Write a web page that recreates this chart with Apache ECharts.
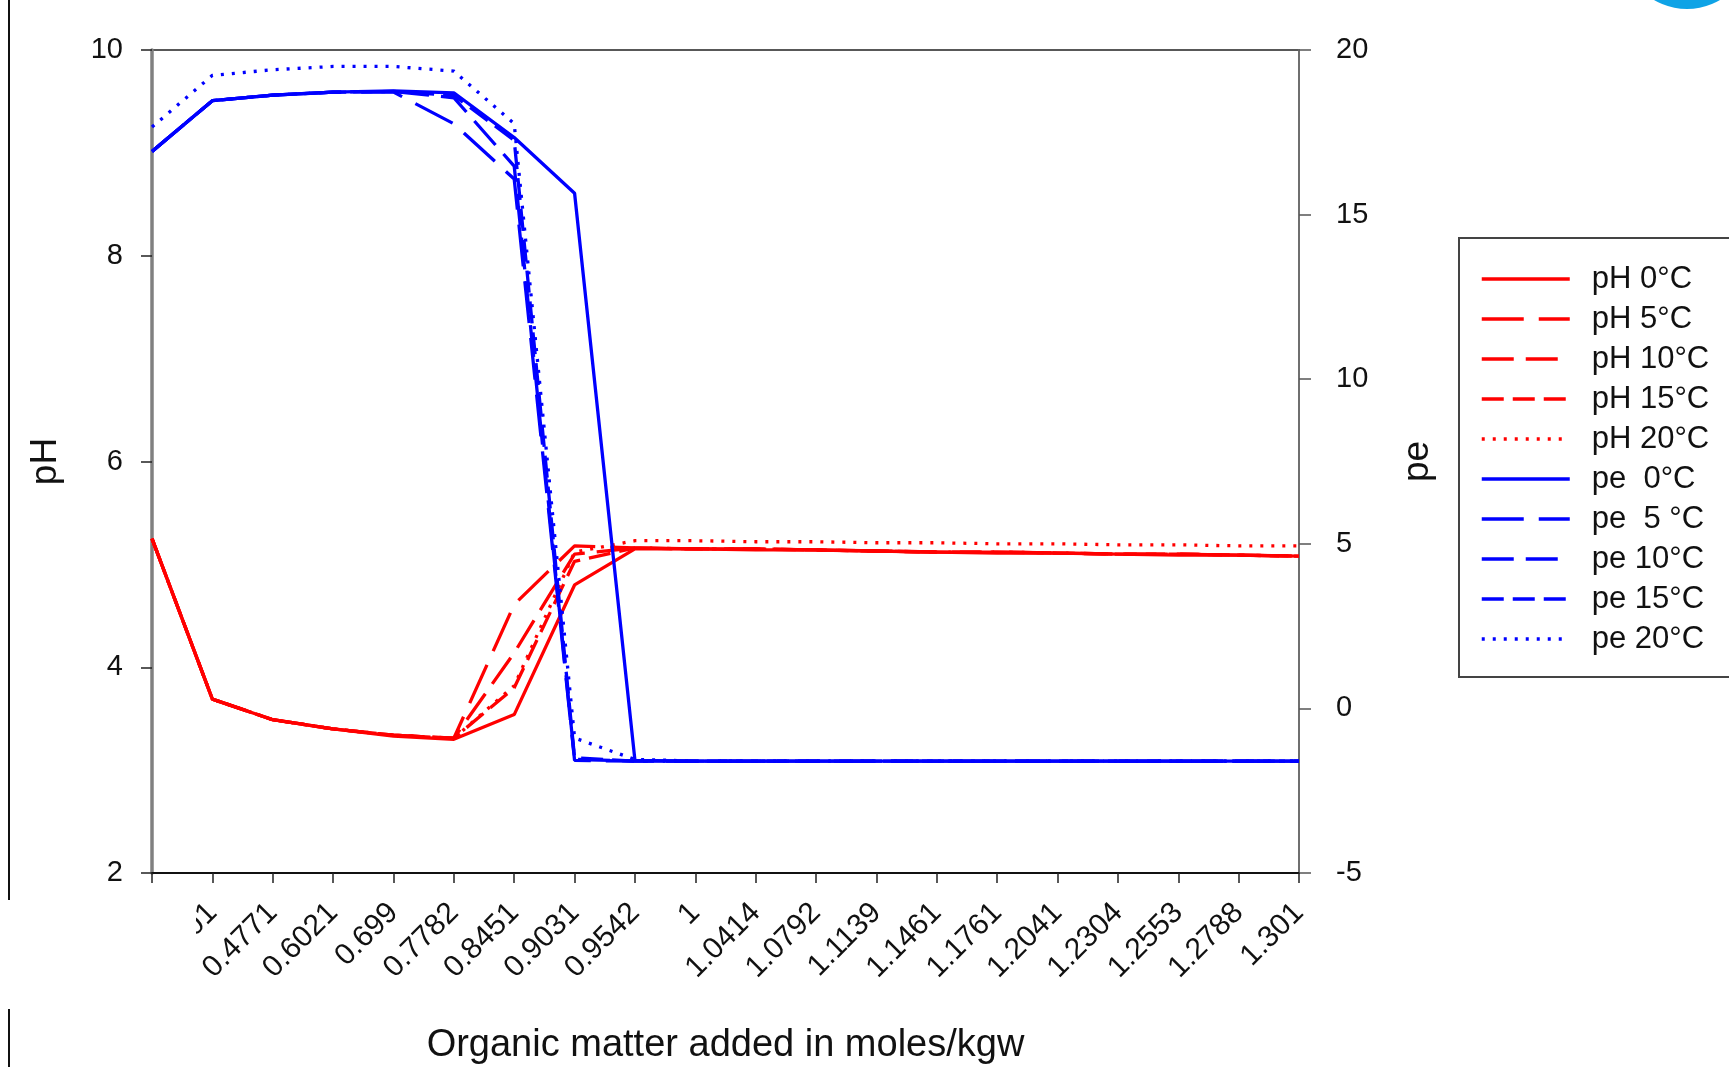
<!DOCTYPE html>
<html>
<head>
<meta charset="utf-8">
<script src="https://cdn.jsdelivr.net/npm/echarts@6/dist/echarts.min.js"></script>
<style>
  html, body { margin: 0; padding: 0; background: #fff; }
  #chart { width: 1729px; height: 1067px; }
</style>
</head>
<body>
<div id="chart"></div>
<script>
// organic matter added (log10 of moles/kgw)
const categories = ['0', '0.301', '0.4771', '0.6021', '0.699', '0.7782', '0.8451', '0.9031', '0.9542', '1',
  '1.0414', '1.0792', '1.1139', '1.1461', '1.1761', '1.2041', '1.2304', '1.2553', '1.2788', '1.301'];

// pH, left axis
const ph0 = [5.25, 3.69, 3.49, 3.40, 3.33, 3.30, 3.54, 4.80, 5.15, 5.15, 5.14, 5.14, 5.13, 5.12, 5.11, 5.11, 5.10, 5.09, 5.09, 5.08];
const ph5 = [5.25, 3.69, 3.49, 3.40, 3.34, 3.31, 4.61, 5.18, 5.16, 5.15, 5.15, 5.14, 5.13, 5.12, 5.12, 5.11, 5.10, 5.10, 5.09, 5.08];
const ph10 = [5.25, 3.69, 3.49, 3.40, 3.34, 3.31, 4.14, 5.10, 5.16, 5.15, 5.15, 5.14, 5.13, 5.12, 5.12, 5.11, 5.10, 5.10, 5.09, 5.08];
const ph15 = [5.25, 3.69, 3.49, 3.40, 3.34, 3.31, 3.80, 5.03, 5.16, 5.15, 5.15, 5.14, 5.13, 5.12, 5.12, 5.11, 5.10, 5.10, 5.09, 5.08];
const ph20 = [5.25, 3.69, 3.49, 3.40, 3.34, 3.31, 3.82, 5.12, 5.23, 5.23, 5.22, 5.22, 5.21, 5.21, 5.20, 5.20, 5.19, 5.19, 5.18, 5.18];

// pe, right axis
const pe0 = [16.92, 18.46, 18.63, 18.72, 18.76, 18.70, 17.34, 15.65, -1.58, -1.60, -1.60, -1.60, -1.60, -1.60, -1.60, -1.60, -1.60, -1.60, -1.60, -1.60];
const pe5 = [16.92, 18.46, 18.63, 18.72, 18.72, 17.76, 16.08, -1.58, -1.60, -1.60, -1.60, -1.60, -1.60, -1.60, -1.60, -1.60, -1.60, -1.60, -1.60, -1.60];
const pe10 = [16.92, 18.46, 18.63, 18.72, 18.74, 18.55, 16.47, -1.55, -1.60, -1.60, -1.60, -1.60, -1.60, -1.60, -1.60, -1.60, -1.60, -1.60, -1.60, -1.60];
const pe15 = [16.92, 18.46, 18.63, 18.72, 18.74, 18.62, 17.26, -1.50, -1.60, -1.60, -1.60, -1.60, -1.60, -1.60, -1.60, -1.60, -1.60, -1.60, -1.60, -1.60];
const pe20 = [17.66, 19.23, 19.40, 19.50, 19.50, 19.36, 17.76, -0.90, -1.55, -1.60, -1.60, -1.60, -1.60, -1.60, -1.60, -1.60, -1.60, -1.60, -1.60, -1.60];

const FONT = '"Liberation Sans", Arial, sans-serif';
const RED = '#ff0000';
const BLUE = '#0000ff';
const dash5 = [42, 15];
const dash10 = [32, 12];
const dash15 = [22, 9];
const dot20 = [3, 8];

function line(name, data, color, type, axis) {
  return {
    name: name,
    type: 'line',
    yAxisIndex: axis,
    data: data,
    symbol: 'none',
    silent: true,
    lineStyle: { color: color, width: 3.3, type: type },
    itemStyle: { color: color }
  };
}

const chart = echarts.init(document.getElementById('chart'));

chart.setOption({
  animation: false,
  backgroundColor: '#fff',
  textStyle: { fontFamily: FONT },
  grid: {
    left: 152, right: 430, top: 50, bottom: 194,
    outerBoundsMode: 'none',
    show: true, borderColor: '#222', borderWidth: 1.5, backgroundColor: 'transparent'
  },
  legend: {
    orient: 'vertical',
    left: 1480,
    top: 261,
    padding: 0,
    itemWidth: 88,
    itemHeight: 14,
    itemGap: 4,
    itemStyle: { opacity: 0 },
    lineStyle: { width: 3.5 },
    textStyle: { fontFamily: FONT, fontSize: 31, color: '#111', lineHeight: 36, padding: [0, 0, 0, 17] }
  },
  xAxis: {
    type: 'category',
    data: categories,
    boundaryGap: false,
    axisLine: { onZero: false, lineStyle: { color: '#111', width: 2 } },
    axisTick: { length: 10, lineStyle: { color: '#222', width: 1.5 } },
    axisLabel: { interval: 0, rotate: 45, fontSize: 30, color: '#111', margin: 35, fontFamily: FONT },
    splitLine: { show: false },
    name: 'Organic matter added in moles/kgw',
    nameLocation: 'middle',
    nameGap: 154,
    nameTextStyle: { fontSize: 38, color: '#111', fontFamily: FONT }
  },
  yAxis: [
    {
      type: 'value', min: 2, max: 10, interval: 2,
      axisLine: { show: true, lineStyle: { color: '#808080', width: 3.5 } },
      axisTick: { show: true, length: 11, lineStyle: { color: '#222', width: 1.5 } },
      axisLabel: { fontSize: 29, color: '#111', margin: 29, fontFamily: FONT },
      splitLine: { show: false },
      name: 'pH', nameLocation: 'middle', nameRotate: 90, nameGap: 88,
      nameTextStyle: { fontSize: 37, color: '#111', fontFamily: FONT }
    },
    {
      type: 'value', min: -5, max: 20, interval: 5, position: 'right',
      axisLine: { show: true, onZero: false, lineStyle: { color: '#777', width: 1.5 } },
      axisTick: { show: true, length: 12, lineStyle: { color: '#555', width: 1.5 } },
      axisLabel: { fontSize: 29, color: '#111', margin: 37, fontFamily: FONT },
      splitLine: { show: false },
      name: 'pe', nameLocation: 'middle', nameRotate: 90, nameGap: 100,
      nameTextStyle: { fontSize: 37, color: '#111', fontFamily: FONT }
    }
  ],
  series: [
    line('pH 0°C', ph0, RED, 'solid', 0),
    line('pH 5°C', ph5, RED, dash5, 0),
    line('pH 10°C', ph10, RED, dash10, 0),
    line('pH 15°C', ph15, RED, dash15, 0),
    line('pH 20°C', ph20, RED, dot20, 0),
    line('pe  0°C', pe0, BLUE, 'solid', 1),
    line('pe  5 °C', pe5, BLUE, dash5, 1),
    line('pe 10°C', pe10, BLUE, dash10, 1),
    line('pe 15°C', pe15, BLUE, dash15, 1),
    line('pe 20°C', pe20, BLUE, dot20, 1)
  ],
  graphic: [
    // legend frame, runs off the right edge like the source screenshot
    { type: 'rect', z: 50, shape: { x: 1459, y: 238, width: 320, height: 439 },
      style: { fill: 'none', stroke: '#444', lineWidth: 2 } },
    // page margin line of the screenshot
    { type: 'line', z: 50, shape: { x1: 9, y1: 0, x2: 9, y2: 1067 },
      style: { stroke: '#111', lineWidth: 2 } },
    // white patch hiding the first tick labels
    { type: 'rect', z: 100, shape: { x: 0, y: 900, width: 196, height: 109 },
      style: { fill: '#fff' } },
    // corner badge
    { type: 'circle', z: 50, shape: { cx: 1687, cy: -56, r: 65 },
      style: { fill: '#0fa3e6' } }
  ]
});
</script>
</body>
</html>
